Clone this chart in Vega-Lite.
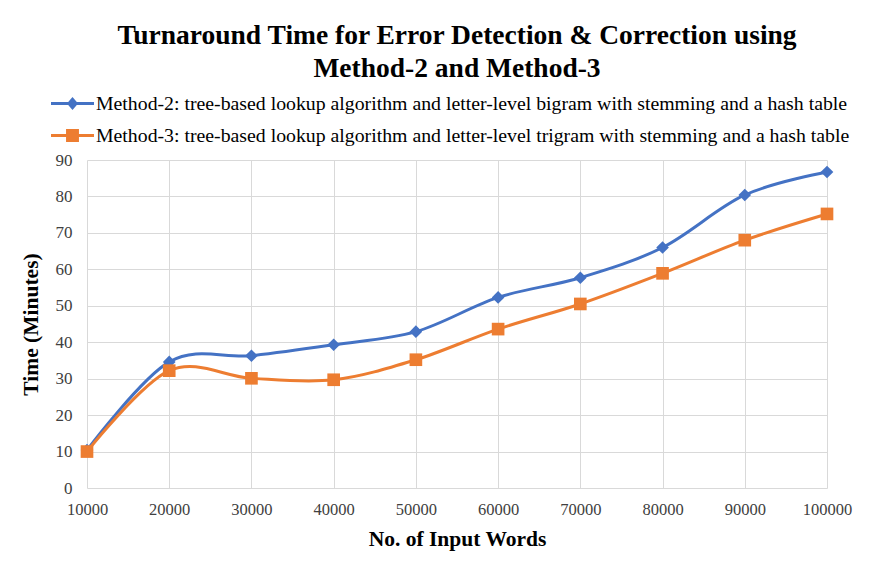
{
  "$schema": "https://vega.github.io/schema/vega-lite/v6.json",
  "width": 740,
  "height": 328,
  "autosize": "none",
  "padding": {"left": 87, "top": 160, "right": 45, "bottom": 80},
  "background": "white",
  "title": {
    "text": ["Turnaround Time for Error Detection & Correction using", "Method-2 and Method-3"],
    "font": "Liberation Serif",
    "fontSize": 27.5,
    "fontWeight": "bold",
    "color": "#000000",
    "anchor": "middle",
    "frame": "group",
    "lineHeight": 33,
    "offset": 0
  },
  "data": {
    "values": [
      {"words": 10000, "time": 10.4, "method": "Method-2: tree-based lookup algorithm and letter-level bigram with stemming and a hash table"},
      {"words": 20000, "time": 34.6, "method": "Method-2: tree-based lookup algorithm and letter-level bigram with stemming and a hash table"},
      {"words": 30000, "time": 36.3, "method": "Method-2: tree-based lookup algorithm and letter-level bigram with stemming and a hash table"},
      {"words": 40000, "time": 39.3, "method": "Method-2: tree-based lookup algorithm and letter-level bigram with stemming and a hash table"},
      {"words": 50000, "time": 42.9, "method": "Method-2: tree-based lookup algorithm and letter-level bigram with stemming and a hash table"},
      {"words": 60000, "time": 52.3, "method": "Method-2: tree-based lookup algorithm and letter-level bigram with stemming and a hash table"},
      {"words": 70000, "time": 57.7, "method": "Method-2: tree-based lookup algorithm and letter-level bigram with stemming and a hash table"},
      {"words": 80000, "time": 66.0, "method": "Method-2: tree-based lookup algorithm and letter-level bigram with stemming and a hash table"},
      {"words": 90000, "time": 80.4, "method": "Method-2: tree-based lookup algorithm and letter-level bigram with stemming and a hash table"},
      {"words": 100000, "time": 86.7, "method": "Method-2: tree-based lookup algorithm and letter-level bigram with stemming and a hash table"},
      {"words": 10000, "time": 10.0, "method": "Method-3: tree-based lookup algorithm and letter-level trigram with stemming and a hash table"},
      {"words": 20000, "time": 32.2, "method": "Method-3: tree-based lookup algorithm and letter-level trigram with stemming and a hash table"},
      {"words": 30000, "time": 30.1, "method": "Method-3: tree-based lookup algorithm and letter-level trigram with stemming and a hash table"},
      {"words": 40000, "time": 29.7, "method": "Method-3: tree-based lookup algorithm and letter-level trigram with stemming and a hash table"},
      {"words": 50000, "time": 35.2, "method": "Method-3: tree-based lookup algorithm and letter-level trigram with stemming and a hash table"},
      {"words": 60000, "time": 43.6, "method": "Method-3: tree-based lookup algorithm and letter-level trigram with stemming and a hash table"},
      {"words": 70000, "time": 50.5, "method": "Method-3: tree-based lookup algorithm and letter-level trigram with stemming and a hash table"},
      {"words": 80000, "time": 58.9, "method": "Method-3: tree-based lookup algorithm and letter-level trigram with stemming and a hash table"},
      {"words": 90000, "time": 68.0, "method": "Method-3: tree-based lookup algorithm and letter-level trigram with stemming and a hash table"},
      {"words": 100000, "time": 75.2, "method": "Method-3: tree-based lookup algorithm and letter-level trigram with stemming and a hash table"}
    ]
  },
  "encoding": {
    "x": {
      "field": "words",
      "type": "quantitative",
      "scale": {"domain": [10000, 100000], "nice": false, "zero": false},
      "axis": {
        "values": [10000, 20000, 30000, 40000, 50000, 60000, 70000, 80000, 90000, 100000],
        "format": "d",
        "title": "No. of Input Words",
        "labelFlush": false,
        "labelFontSize": 16.5,
        "labelPadding": 13,
        "titlePadding": 11
      }
    },
    "y": {
      "field": "time",
      "type": "quantitative",
      "scale": {"domain": [0, 90], "nice": false},
      "axis": {
        "values": [0, 10, 20, 30, 40, 50, 60, 70, 80, 90],
        "title": "Time (Minutes)",
        "labelFontSize": 17,
        "labelPadding": 15,
        "titlePadding": 13
      }
    },
    "color": {
      "field": "method",
      "type": "nominal",
      "scale": {"range": ["#4472C4", "#ED7D31"]},
      "legend": {
        "orient": "none",
        "legendX": -36,
        "legendY": -78,
        "direction": "vertical",
        "title": null,
        "labelFont": "Liberation Serif",
        "labelFontSize": 19.8,
        "labelColor": "#000000",
        "labelLimit": 900,
        "labelOffset": 2,
        "rowPadding": -12,
        "symbolSize": 1849,
        "encode": {
          "symbols": {
            "update": {
              "shape": {"signal": "indexof(datum.value, 'bigram') >= 0 ? 'M-1,-0.07L1,-0.07L1,0.07L-1,0.07ZM0,-0.3L0.26,0L0,0.3L-0.26,0Z' : 'M-1,-0.07L1,-0.07L1,0.07L-1,0.07ZM-0.3,-0.3L0.3,-0.3L0.3,0.3L-0.3,0.3Z'"},
              "fill": {"scale": "color", "field": "value"},
              "stroke": {"value": "transparent"},
              "strokeWidth": {"value": 0},
              "opacity": {"value": 1},
              "fillOpacity": {"value": 1}
            }
          }
        }
      }
    }
  },
  "layer": [
    {
      "mark": {"type": "line", "interpolate": "cardinal", "strokeWidth": 3}
    },
    {
      "mark": {"type": "point", "filled": true, "opacity": 1},
      "encoding": {
        "shape": {
          "field": "method",
          "type": "nominal",
          "scale": {"range": ["diamond", "square"]},
          "legend": null
        },
        "size": {"value": 160}
      }
    }
  ],
  "config": {
    "font": "Liberation Serif",
    "view": {"stroke": null},
    "axis": {
      "grid": true,
      "gridColor": "#D9D9D9",
      "gridWidth": 1,
      "domain": false,
      "ticks": false,
      "labelFont": "Liberation Serif",
      "labelColor": "#404040",
      "titleFont": "Liberation Serif",
      "titleFontSize": 21.5,
      "titleFontWeight": "bold",
      "titleColor": "#000000"
    }
  }
}
